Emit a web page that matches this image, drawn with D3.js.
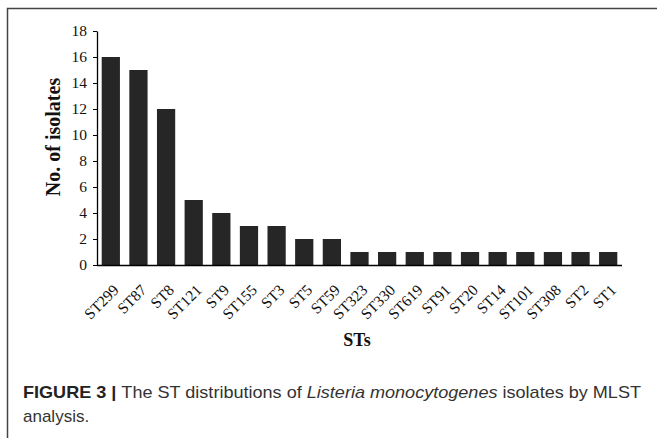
<!DOCTYPE html>
<html><head><meta charset="utf-8">
<script src="https://cdn.jsdelivr.net/npm/d3@7"></script>
<style>body{margin:0;background:#fff}svg{display:block}</style>
</head><body>
<svg id="c" width="657" height="438"></svg>
<script>
const categories = ["ST299","ST87","ST8","ST121","ST9","ST155","ST3","ST5","ST59","ST323","ST330","ST619","ST91","ST20","ST14","ST101","ST308","ST2","ST1"];
const values = [16,15,12,5,4,3,3,2,2,1,1,1,1,1,1,1,1,1,1];
const yTicks = [0,2,4,6,8,10,12,14,16,18];

const svg = d3.select("#c");
// frame
svg.append("path").attr("d","M7.5,438 V8.5 H657").attr("fill","none").attr("stroke","#444").attr("stroke-width",1.5);

const x0 = 97, x1 = 622, yTop = 31, yBot = 265;
const x = d3.scaleBand().domain(categories).range([x0, x1]).paddingInner(0.34).paddingOuter(0.17);
const y = d3.scaleLinear().domain([0,18]).range([yBot, yTop]);

const serif = "'Liberation Serif','Times New Roman',serif";

svg.append("g").selectAll("rect").data(values).join("rect")
  .attr("x",(d,i)=>x(categories[i])).attr("width",x.bandwidth())
  .attr("y",d=>y(d)).attr("height",d=>y(0)-y(d)).attr("fill","#262626");

const ya = svg.append("g").attr("transform",`translate(${x0},0)`)
  .call(d3.axisLeft(y).tickValues(yTicks).tickSize(4).tickPadding(6).tickSizeOuter(0));
ya.select(".domain").attr("stroke","#000").attr("stroke-width",1.3);
ya.selectAll(".tick line").attr("stroke","#000");
ya.selectAll("text").attr("font-family",serif).attr("font-size",15.5).attr("fill","#111");

const xa = svg.append("g").attr("transform",`translate(0,${yBot})`)
  .call(d3.axisBottom(x).tickSize(0).tickSizeOuter(0).tickPadding(0));
xa.select(".domain").attr("stroke","#000").attr("stroke-width",1.5).attr("d",`M${x0},0.5H${x1}`);
xa.selectAll("text").attr("font-family",serif).attr("font-size",15.5).attr("fill","#111")
  .attr("text-anchor","end").attr("dy",null).attr("y",0)
  .attr("transform","translate(9,26) rotate(-45)");

svg.append("text").attr("transform","translate(60,137) rotate(-90)")
  .attr("text-anchor","middle").attr("font-family",serif).attr("font-weight","bold")
  .attr("font-size",20).attr("fill","#111").text("No. of isolates");
svg.append("text").attr("x",357).attr("y",346).attr("text-anchor","middle")
  .attr("font-family",serif).attr("font-weight","bold").attr("font-size",18).attr("fill","#111").text("STs");

const sans = "'Liberation Sans Narrow','Arial Narrow','Liberation Sans',Arial,sans-serif";
const cap = svg.append("text").attr("x",23).attr("y",398).attr("font-family",sans).attr("font-size",17)
  .attr("fill","#333").attr("textLength",618).attr("lengthAdjust","spacingAndGlyphs");
cap.append("tspan").attr("font-weight","bold").attr("fill","#222").text("FIGURE 3 | ");
cap.append("tspan").text("The ST distributions of ");
cap.append("tspan").attr("font-style","italic").text("Listeria monocytogenes");
cap.append("tspan").text(" isolates by MLST");
svg.append("text").attr("x",23).attr("y",422).attr("font-family",sans).attr("font-size",17).attr("fill","#333").text("analysis.");
</script>
</body></html>
